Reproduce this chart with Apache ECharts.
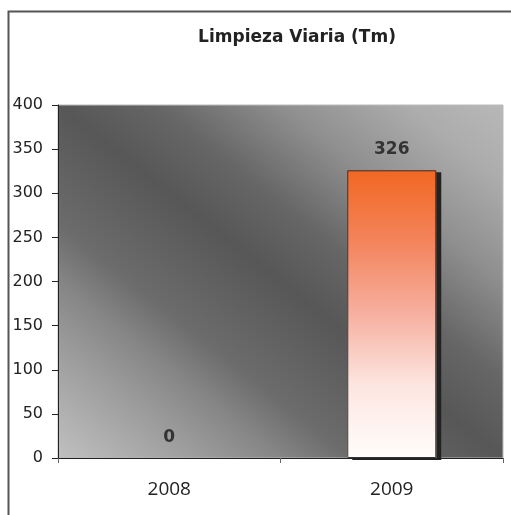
<!DOCTYPE html>
<html>
<head>
<meta charset="utf-8">
<script src="https://cdn.jsdelivr.net/npm/echarts@6/dist/echarts.min.js"></script>
<style>
  html, body { margin: 0; padding: 0; background: #fff; }
  #chart { width: 511px; height: 515px; }
</style>
</head>
<body>
<div id="chart"></div>
<script>
// datos del gráfico
const years = ['2008', '2009'];
const toneladas = [0, 326];
const yMin = 0;
const yMax = 400;
const yStep = 50;

// zona de trazado (px)
const plot = { left: 58, top: 105, right: 503, bottom: 458 };

// degradado diagonal: oscuro en la diagonal sup-izq -> inf-der
function fondoDiagonal() {
  const cx = (plot.left + plot.right) / 2;
  const cy = (plot.top + plot.bottom) / 2;
  const w = plot.right - plot.left;
  const h = plot.bottom - plot.top;
  const len = Math.sqrt(w * w + h * h);
  const ux = h / len, uy = -w / len;
  const half = (w * h) / len;
  return {
    type: 'linear', global: true,
    x: cx - ux * half, y: cy - uy * half,
    x2: cx + ux * half, y2: cy + uy * half,
    colorStops: [
      { offset: 0, color: '#c0c0c0' },
      { offset: 0.17, color: '#9a9a9a' },
      { offset: 0.25, color: '#868686' },
      { offset: 0.33, color: '#6c6c6c' },
      { offset: 0.5, color: '#575757' },
      { offset: 0.61, color: '#666666' },
      { offset: 0.75, color: '#8f8f8f' },
      { offset: 0.89, color: '#acacac' },
      { offset: 1, color: '#b8b8b8' }
    ]
  };
}

const chart = echarts.init(document.getElementById('chart'));

const option = {
  animation: false,
  title: {
    text: 'Limpieza Viaria (Tm)',
    left: 292,
    top: 24,
    textAlign: 'center',
    textStyle: {
      fontFamily: 'DejaVu Sans',
      fontWeight: 'bold',
      fontSize: 17,
      color: '#222'
    }
  },
  // marco exterior
  graphic: [{
    type: 'rect',
    left: 6,
    top: 9,
    shape: { width: 560, height: 560 },
    style: { fill: 'none', stroke: '#555', lineWidth: 2 },
    silent: true
  }],
  grid: {
    left: plot.left,
    top: plot.top,
    right: 511 - plot.right,
    bottom: 515 - plot.bottom,
    show: true,
    borderWidth: 1,
    borderColor: '#bbb',
    backgroundColor: fondoDiagonal()
  },
  xAxis: {
    type: 'category',
    data: years,
    z: 5,
    axisLine: { lineStyle: { color: '#222', width: 1 } },
    axisTick: { show: true, length: 5, lineStyle: { color: '#666' } },
    axisLabel: {
      margin: 22,
      fontSize: 19,
      fontFamily: 'Open Sans',
      color: '#222'
    }
  },
  yAxis: {
    type: 'value',
    min: yMin,
    max: yMax,
    interval: yStep,
    splitLine: { show: false },
    axisLine: { show: true, lineStyle: { color: '#222', width: 1 } },
    axisTick: { show: true, length: 6, lineStyle: { color: '#222' } },
    axisLabel: {
      margin: 15,
      fontSize: 16,
      fontFamily: 'DejaVu Sans',
      color: '#222'
    }
  },
  series: [{
    // relleno con sombra y etiquetas
    type: 'bar',
    data: toneladas,
    barWidth: '40%',
    barGap: '-100%',
    itemStyle: {
      color: {
        type: 'linear', x: 0, y: 0, x2: 0, y2: 1,
        colorStops: [
          { offset: 0, color: '#f26722' },
          { offset: 0.25, color: '#f4845c' },
          { offset: 0.5, color: '#f6b0a0' },
          { offset: 0.75, color: '#fde6e1' },
          { offset: 1, color: '#fffdfb' }
        ]
      },
      borderWidth: 0,
      shadowColor: '#222',
      shadowBlur: 0,
      shadowOffsetX: 5,
      shadowOffsetY: 2
    },
    label: {
      show: true,
      position: 'top',
      distance: 12,
      fontSize: 17,
      fontWeight: 'bold',
      fontFamily: 'DejaVu Sans',
      color: '#333'
    }
  }, {
    // contorno de la barra
    type: 'bar',
    data: toneladas.map(v => (v > 0 ? v : null)),
    barWidth: '40%',
    barGap: '-100%',
    silent: true,
    itemStyle: {
      color: 'transparent',
      borderColor: '#333',
      borderWidth: 1
    }
  }]
};

chart.setOption(option);
</script>
</body>
</html>
